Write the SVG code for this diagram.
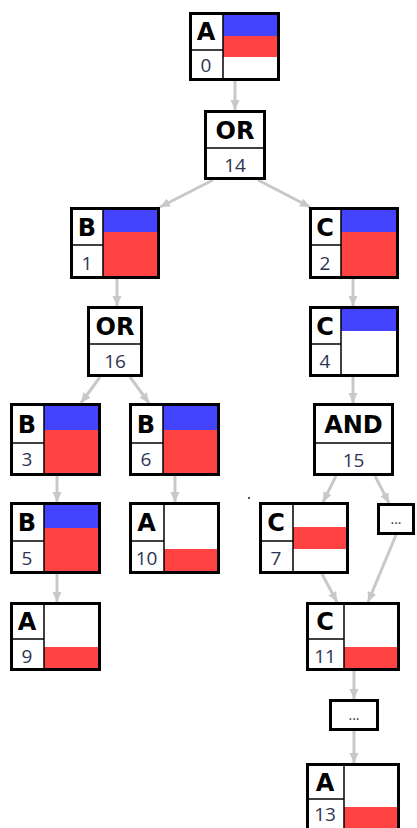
<svg xmlns="http://www.w3.org/2000/svg" width="417" height="828" viewBox="0 0 417 828">
<style>
.box{fill:none;stroke:#000;stroke-width:3}
.bg{fill:#fff}
.div{stroke:#000;stroke-width:1.5;fill:none}
.lbl{font-family:"DejaVu Sans",Verdana,sans-serif;font-weight:bold;font-size:24px;fill:#000;text-anchor:middle}
.num{font-family:"Open Sans","Noto Sans",sans-serif;font-size:19px;fill:#2e3452;text-anchor:middle}
.dots{font-family:"Open Sans","Noto Sans",sans-serif;font-size:14px;fill:#2e3452;text-anchor:middle}
.b{fill:#4444ff}
.r{fill:#ff4242}
.edge{stroke:#c8c8c8;stroke-width:3;fill:none;marker-end:url(#ah)}
</style>
<defs>
<marker id="ah" markerUnits="userSpaceOnUse" markerWidth="10" markerHeight="10" refX="10" refY="5" orient="auto">
<path d="M0,0.5 L10,5 L0,9.5 z" fill="#c8c8c8"/>
</marker>
</defs>
<rect width="417" height="828" fill="#fff"/>
<g id="connectors">
<line class="edge" x1="235" y1="81" x2="235" y2="110"/>
<line class="edge" x1="213" y1="180" x2="160" y2="207"/>
<line class="edge" x1="258" y1="180" x2="310" y2="207"/>
<line class="edge" x1="117" y1="279" x2="117" y2="306"/>
<line class="edge" x1="353" y1="279" x2="353" y2="306"/>
<line class="edge" x1="100" y1="377" x2="81" y2="403"/>
<line class="edge" x1="130" y1="377" x2="149" y2="403"/>
<line class="edge" x1="353" y1="377" x2="353" y2="403"/>
<line class="edge" x1="57" y1="476" x2="57" y2="502"/>
<line class="edge" x1="175" y1="476" x2="175" y2="502"/>
<line class="edge" x1="336" y1="476" x2="323" y2="502"/>
<line class="edge" x1="375" y1="476" x2="389" y2="503"/>
<line class="edge" x1="57" y1="574" x2="57" y2="602"/>
<line class="edge" x1="322" y1="574" x2="337" y2="602"/>
<line class="edge" x1="396" y1="535" x2="368" y2="602"/>
<line class="edge" x1="354" y1="671" x2="354" y2="699"/>
<line class="edge" x1="354" y1="731" x2="354" y2="763"/>
</g>
<rect x="248" y="497" width="2" height="2" fill="#555"/>

<g id="n0">
<rect class="bg" x="189" y="12" width="91" height="69"/>
<rect class="b" x="223" y="14" width="55" height="22"/>
<rect class="r" x="223" y="36" width="55" height="21"/>
<line class="div" x1="223" y1="12" x2="223" y2="81"/>
<line class="div" x1="189" y1="50" x2="223" y2="50"/>
<rect class="box" x="190.5" y="13.5" width="88" height="66"/>
<text class="lbl" x="206" y="40">A</text>
<text class="num" x="206" y="72">0</text>
</g>

<g id="n14">
<rect class="bg" x="204" y="110" width="62" height="70"/>
<line class="div" x1="204" y1="148" x2="266" y2="148"/>
<rect class="box" x="205.5" y="111.5" width="59" height="67"/>
<text class="lbl" x="235" y="139">OR</text>
<text class="num" x="235" y="172">14</text>
</g>

<g id="n1">
<rect class="bg" x="70" y="207" width="90" height="72"/>
<rect class="b" x="103" y="209" width="55" height="23"/>
<rect class="r" x="103" y="232" width="55" height="45"/>
<line class="div" x1="103" y1="207" x2="103" y2="279"/>
<line class="div" x1="70" y1="245" x2="103" y2="245"/>
<rect class="box" x="71.5" y="208.5" width="87" height="69"/>
<text class="lbl" x="87" y="236">B</text>
<text class="num" x="87" y="270">1</text>
</g>

<g id="n2">
<rect class="bg" x="309" y="207" width="90" height="72"/>
<rect class="b" x="341" y="209" width="56" height="23"/>
<rect class="r" x="341" y="232" width="56" height="45"/>
<line class="div" x1="341" y1="207" x2="341" y2="279"/>
<line class="div" x1="309" y1="245" x2="341" y2="245"/>
<rect class="box" x="310.5" y="208.5" width="87" height="69"/>
<text class="lbl" x="325" y="236">C</text>
<text class="num" x="325" y="270">2</text>
</g>

<g id="n16">
<rect class="bg" x="87" y="306" width="56" height="71"/>
<line class="div" x1="87" y1="344" x2="143" y2="344"/>
<rect class="box" x="88.5" y="307.5" width="53" height="68"/>
<text class="lbl" x="115" y="335">OR</text>
<text class="num" x="115" y="368">16</text>
</g>

<g id="n4">
<rect class="bg" x="309" y="306" width="90" height="71"/>
<rect class="b" x="341" y="308" width="56" height="23"/>
<line class="div" x1="341" y1="306" x2="341" y2="377"/>
<line class="div" x1="309" y1="344" x2="341" y2="344"/>
<rect class="box" x="310.5" y="307.5" width="87" height="68"/>
<text class="lbl" x="325" y="335">C</text>
<text class="num" x="325" y="368">4</text>
</g>

<g id="n3">
<rect class="bg" x="10" y="403" width="91" height="73"/>
<rect class="b" x="44" y="405" width="55" height="25"/>
<rect class="r" x="44" y="430" width="55" height="44"/>
<line class="div" x1="44" y1="403" x2="44" y2="476"/>
<line class="div" x1="10" y1="443" x2="44" y2="443"/>
<rect class="box" x="11.5" y="404.5" width="88" height="70"/>
<text class="lbl" x="27" y="433">B</text>
<text class="num" x="27" y="466">3</text>
</g>

<g id="n6">
<rect class="bg" x="129" y="403" width="91" height="73"/>
<rect class="b" x="163" y="405" width="55" height="25"/>
<rect class="r" x="163" y="430" width="55" height="44"/>
<line class="div" x1="163" y1="403" x2="163" y2="476"/>
<line class="div" x1="129" y1="443" x2="163" y2="443"/>
<rect class="box" x="130.5" y="404.5" width="88" height="70"/>
<text class="lbl" x="146" y="433">B</text>
<text class="num" x="146" y="466">6</text>
</g>

<g id="n15">
<rect class="bg" x="313" y="403" width="81" height="73"/>
<line class="div" x1="313" y1="443" x2="394" y2="443"/>
<rect class="box" x="314.5" y="404.5" width="78" height="70"/>
<text class="lbl" x="353.5" y="433">AND</text>
<text class="num" x="353.5" y="467">15</text>
</g>

<g id="n5">
<rect class="bg" x="10" y="502" width="91" height="72"/>
<rect class="b" x="44" y="504" width="55" height="24"/>
<rect class="r" x="44" y="528" width="55" height="44"/>
<line class="div" x1="44" y1="502" x2="44" y2="574"/>
<line class="div" x1="10" y1="541" x2="44" y2="541"/>
<rect class="box" x="11.5" y="503.5" width="88" height="69"/>
<text class="lbl" x="27" y="531">B</text>
<text class="num" x="27" y="565">5</text>
</g>

<g id="n10">
<rect class="bg" x="129" y="502" width="91" height="72"/>
<rect class="r" x="164" y="549" width="54" height="23"/>
<line class="div" x1="164" y1="502" x2="164" y2="574"/>
<line class="div" x1="129" y1="541" x2="164" y2="541"/>
<rect class="box" x="130.5" y="503.5" width="88" height="69"/>
<text class="lbl" x="146.5" y="531">A</text>
<text class="num" x="146.5" y="565">10</text>
</g>

<g id="n7">
<rect class="bg" x="259" y="502" width="90" height="72"/>
<rect class="r" x="293" y="527" width="54" height="22"/>
<line class="div" x1="293" y1="502" x2="293" y2="574"/>
<line class="div" x1="259" y1="541" x2="293" y2="541"/>
<rect class="box" x="260.5" y="503.5" width="87" height="69"/>
<text class="lbl" x="276" y="531">C</text>
<text class="num" x="276" y="565">7</text>
</g>

<g id="dots1">
<rect class="bg" x="377" y="503" width="38" height="32"/>
<rect class="box" x="378.5" y="504.5" width="35" height="29"/>
<text class="dots" x="396" y="524">...</text>
</g>

<g id="n9">
<rect class="bg" x="10" y="602" width="91" height="69"/>
<rect class="r" x="44" y="647" width="55" height="22"/>
<line class="div" x1="44" y1="602" x2="44" y2="671"/>
<line class="div" x1="10" y1="639" x2="44" y2="639"/>
<rect class="box" x="11.5" y="603.5" width="88" height="66"/>
<text class="lbl" x="27" y="630">A</text>
<text class="num" x="27" y="663">9</text>
</g>

<g id="n11">
<rect class="bg" x="306" y="602" width="94" height="69"/>
<rect class="r" x="344" y="647" width="54" height="22"/>
<line class="div" x1="344" y1="602" x2="344" y2="671"/>
<line class="div" x1="306" y1="639" x2="344" y2="639"/>
<rect class="box" x="307.5" y="603.5" width="91" height="66"/>
<text class="lbl" x="325" y="630">C</text>
<text class="num" x="325" y="663">11</text>
</g>

<g id="dots2">
<rect class="bg" x="329" y="699" width="50" height="32"/>
<rect class="box" x="330.5" y="700.5" width="47" height="29"/>
<text class="dots" x="354" y="720">...</text>
</g>

<g id="n13">
<rect class="bg" x="306" y="763" width="94" height="69"/>
<rect class="r" x="344" y="807" width="54" height="23"/>
<line class="div" x1="344" y1="763" x2="344" y2="832"/>
<line class="div" x1="306" y1="799" x2="344" y2="799"/>
<rect class="box" x="307.5" y="764.5" width="91" height="66"/>
<text class="lbl" x="325" y="791">A</text>
<text class="num" x="325" y="821" font-size="18">13</text>
</g>
</svg>
